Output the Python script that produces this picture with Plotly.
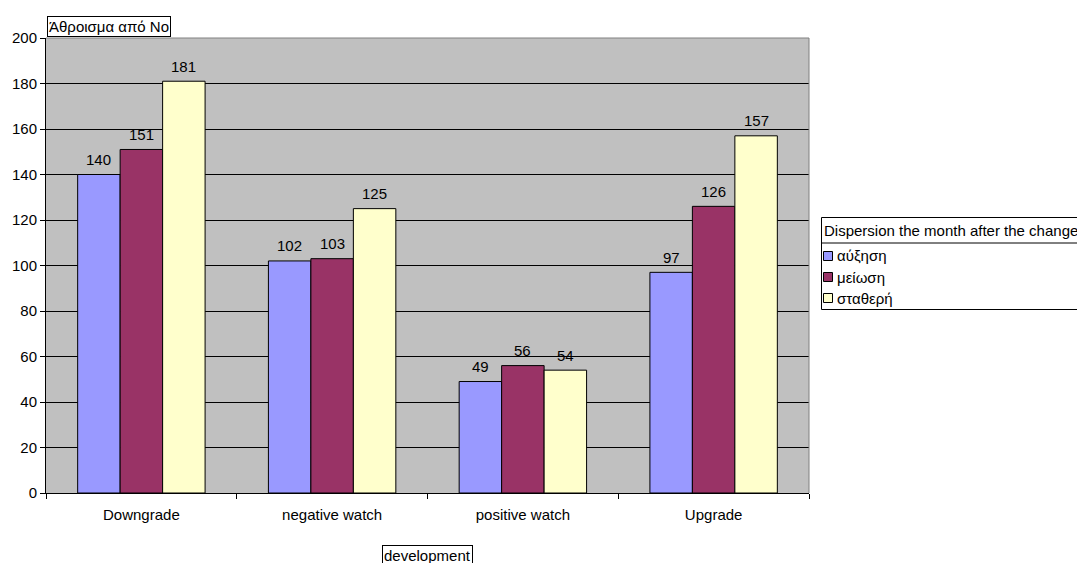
import plotly.graph_objects as go

categories = ["Downgrade", "negative watch", "positive watch", "Upgrade"]
series_names = ["αύξηση", "μείωση", "σταθερή"]
auxisi = [140, 102, 49, 97]
meiosi = [151, 103, 56, 126]
statheri = [181, 125, 54, 157]
y_ticks = [0, 20, 40, 60, 80, 100, 120, 140, 160, 180, 200]

colors = ["#9999FF", "#993366", "#FFFFCC"]
font_family = "Liberation Sans, Arial, sans-serif"
FS = 15

W, H = 1077, 563
L, R, T, B = 46, 268, 38, 70
plot_w = W - L - R
plot_h = H - T - B
BARGAP = 0.332


def px_x(px):
    return (px - L) / plot_w


def px_y(py):
    return (H - B - py) / plot_h


fig = go.Figure()
all_series = [auxisi, meiosi, statheri]
for name, vals, col in zip(series_names, all_series, colors):
    fig.add_trace(go.Bar(
        x=categories, y=vals, name=name,
        marker=dict(color=col, line=dict(color="black", width=1)),
        showlegend=False,
    ))

# value labels above each bar
bar_px = plot_w / len(categories) * (1 - BARGAP) / len(all_series)
for i, vals in enumerate(all_series):
    for cat, v in zip(categories, vals):
        fig.add_annotation(
            x=cat, y=v, text=str(v), showarrow=False,
            xshift=(i - 1) * bar_px, yshift=15, yanchor="middle",
            font=dict(size=FS, color="black"),
        )

fig.update_layout(
    width=W, height=H,
    margin=dict(l=L, r=R, t=T, b=B, autoexpand=False),
    paper_bgcolor="white", plot_bgcolor="#C0C0C0",
    barmode="group", bargap=BARGAP, bargroupgap=0,
    font=dict(family=font_family, size=FS, color="black"),
    showlegend=False,
    xaxis=dict(
        tickson="boundaries", ticks="outside", ticklen=5, tickcolor="black",
        showline=True, linecolor="black", linewidth=1,
        showgrid=False, tickfont=dict(size=FS), ticklabelstandoff=8,
    ),
    yaxis=dict(
        range=[0, 200], tickvals=y_ticks, ticks="outside", ticklen=5,
        tickcolor="black", showline=True, linecolor="black", linewidth=1,
        showgrid=True, gridcolor="black", gridwidth=1, zeroline=False,
        tickfont=dict(size=FS),
    ),
)

# plot-area frame on the top and right
fig.add_shape(type="line", xref="paper", yref="paper", x0=0, x1=1, y0=1, y1=1,
              line=dict(color="#808080", width=1))
fig.add_shape(type="line", xref="paper", yref="paper", x0=1, x1=1, y0=0, y1=1,
              line=dict(color="#808080", width=1))

# boxed axis titles
fig.add_annotation(text="Άθροισμα από No", xref="paper", yref="paper",
                   x=0, y=1.0, xanchor="left", yanchor="bottom", xshift=1, yshift=1,
                   showarrow=False, bgcolor="white", bordercolor="black",
                   borderwidth=1, borderpad=1, font=dict(size=FS))
fig.add_annotation(text="development", xref="paper", yref="paper",
                   x=px_x(427), y=px_y(545), xanchor="center", yanchor="top",
                   showarrow=False, bgcolor="white", bordercolor="black",
                   borderwidth=1, borderpad=1, font=dict(size=FS))

# legend box with a titled header
fig.add_shape(type="rect", xref="paper", yref="paper",
              x0=px_x(821.5), x1=px_x(1100), y0=px_y(309.5), y1=px_y(217.5),
              fillcolor="white", line=dict(color="black", width=1), layer="above")
fig.add_shape(type="line", xref="paper", yref="paper",
              x0=px_x(821.5), x1=px_x(1100), y0=px_y(243), y1=px_y(243),
              line=dict(color="black", width=1), layer="above")
fig.add_annotation(text="Dispersion the month after the change",
                   xref="paper", yref="paper", x=px_x(822), y=px_y(230.5),
                   xanchor="left", yanchor="middle", showarrow=False,
                   font=dict(size=FS))
item_y = [256, 277, 298]
for name, col, cy in zip(series_names, colors, item_y):
    fig.add_shape(type="rect", xref="paper", yref="paper",
                  x0=px_x(823.5), x1=px_x(832.5), y0=px_y(cy + 4.5), y1=px_y(cy - 4.5),
                  fillcolor=col, line=dict(color="black", width=1), layer="above")
    fig.add_annotation(text=name, xref="paper", yref="paper",
                       x=px_x(835), y=px_y(cy), xanchor="left", yanchor="middle",
                       showarrow=False, font=dict(size=FS))

fig.write_html("out.html")
